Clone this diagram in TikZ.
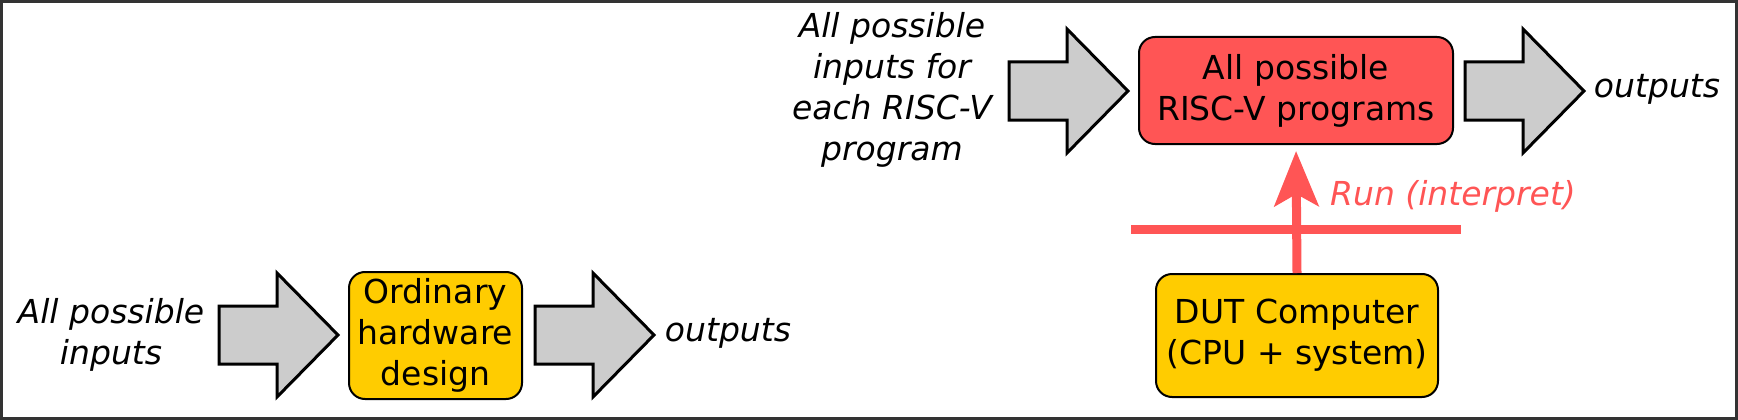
\documentclass[tikz,border=0pt]{standalone}
\usepackage{fontspec}
\setmainfont{DejaVu Sans}
\usetikzlibrary{arrows.meta}
\definecolor{boxyellow}{HTML}{FFCC00}
\definecolor{boxred}{HTML}{FF5555}
\definecolor{arrowgray}{HTML}{CCCCCC}
\definecolor{framegray}{HTML}{333333}
\newcommand{\fatarrow}[2]{%
  \draw[fatarrowstyle] (#1,#2-29) -- (#1+58,#2-29) -- (#1+58,#2-62) -- (#1+119,#2)
    -- (#1+58,#2+62) -- (#1+58,#2+29) -- (#1,#2+29) -- cycle;}
\tikzset{
  fatarrowstyle/.style={draw=black, fill=arrowgray, line width=3pt, line join=miter},
  roundbox/.style={draw=black, line width=2pt, rounded corners=16pt, align=center,
    font=\fontsize{33}{41}\selectfont, inner sep=0pt},
  itlabel/.style={align=center, font=\fontsize{33}{41}\selectfont\itshape, inner sep=0pt},
}
\begin{document}
\begin{tikzpicture}[x=1pt,y=-1pt]
\useasboundingbox (0,0) rectangle (1738,420);
\draw[framegray, line width=3pt] (1.5,1.5) rectangle (1736.5,418.5);

% bottom-left chain
\node[itlabel] (inA) at (111,335) {All possible\\inputs};
\fatarrow{219}{335}
\node[roundbox, fill=boxyellow, minimum width=173pt, minimum height=127pt] (ord) at (435.5,335.5) {Ordinary\\hardware\\design};
\fatarrow{535}{335}
\node[itlabel] (outA) at (728,333) {outputs};

% top chain
\node[itlabel] (inB) at (892,90) {All possible\\inputs for\\each RISC-V\\program};
\fatarrow{1009}{91}
\node[roundbox, fill=boxred, minimum width=314pt, minimum height=107pt] (prog) at (1296,90.5) {All possible\\RISC-V programs};
\fatarrow{1465}{91}
\node[itlabel] (outB) at (1657,89) {outputs};

% DUT
\node[roundbox, fill=boxyellow, minimum width=282pt, minimum height=123pt] (dut) at (1297,335.5) {DUT Computer\\(CPU + system)};

% run arrow
\coordinate (barL) at (1131,229);
\coordinate (barR) at (1461,229);
\draw[boxred, line width=9pt] (barL) -- (barR);
\draw[boxred, line width=9pt, -{Stealth[length=55pt,width=44pt,inset=12pt]}, shorten >=6pt] (dut.north) -- (prog.south);
\node[itlabel, text=boxred, anchor=west] (run) at (1330,196) {Run (interpret)};
\end{tikzpicture}
\end{document}
